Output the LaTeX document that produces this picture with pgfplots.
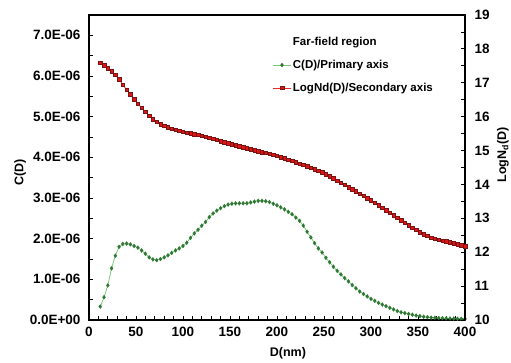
\documentclass[border=0pt]{standalone}
\usepackage{fontspec}
\setmainfont{Liberation Sans}
\usepackage{pgfplots}
\usepackage{pgfplotstable}
\pgfplotsset{compat=1.18}
\definecolor{gmark}{RGB}{46,120,52}
\definecolor{gline}{RGB}{120,200,120}
\definecolor{rmark}{RGB}{225,20,20}
\definecolor{redge}{RGB}{120,20,20}
\definecolor{rline}{RGB}{235,40,40}
\pgfplotstableread{
D C
12 0.33
16 0.56
20 0.85
24 1.27
28 1.58
32 1.80
36 1.87
40 1.88
44 1.86
48 1.82
52 1.78
56 1.71
60 1.63
64 1.54
68 1.49
72 1.47
76 1.50
80 1.54
84 1.59
88 1.65
92 1.71
96 1.76
100 1.82
104 1.90
108 2.02
112 2.13
116 2.22
120 2.32
124 2.41
128 2.53
132 2.62
136 2.69
140 2.75
144 2.80
148 2.84
152 2.86
156 2.87
160 2.87
164 2.87
168 2.87
172 2.89
176 2.91
180 2.93
184 2.93
188 2.92
192 2.90
196 2.86
200 2.82
204 2.77
208 2.72
212 2.66
216 2.60
220 2.52
224 2.44
228 2.32
232 2.17
236 2.03
240 1.89
244 1.76
248 1.66
252 1.53
256 1.42
260 1.31
264 1.21
268 1.12
272 1.03
276 0.95
280 0.86
284 0.78
288 0.70
292 0.64
296 0.58
300 0.52
304 0.47
308 0.42
312 0.38
316 0.34
320 0.30
324 0.26
328 0.22
332 0.19
336 0.17
340 0.15
344 0.13
348 0.11
352 0.095
356 0.08
360 0.07
364 0.06
368 0.055
372 0.05
376 0.045
380 0.04
384 0.037
388 0.034
392 0.031
396 0.03
400 0.028
}\tableC
\pgfplotstableread{
D L
12 17.59
16 17.52
20 17.43
24 17.34
28 17.23
32 17.11
36 16.94
40 16.79
44 16.66
48 16.52
52 16.38
56 16.26
60 16.14
64 16.03
68 15.93
72 15.85
76 15.78
80 15.73
84 15.69
88 15.65
92 15.61
96 15.58
100 15.55
104 15.53
108 15.51
112 15.48
116 15.46
120 15.44
124 15.41
128 15.38
132 15.35
136 15.32
140 15.28
144 15.25
148 15.22
152 15.19
156 15.16
160 15.13
164 15.10
168 15.07
172 15.04
176 15.01
180 14.98
184 14.95
188 14.93
192 14.90
196 14.87
200 14.84
204 14.80
208 14.77
212 14.73
216 14.70
220 14.66
224 14.62
228 14.58
232 14.54
236 14.50
240 14.45
244 14.40
248 14.36
252 14.30
256 14.24
260 14.18
264 14.11
268 14.05
272 13.99
276 13.92
280 13.86
284 13.80
288 13.73
292 13.67
296 13.60
300 13.54
304 13.46
308 13.39
312 13.31
316 13.24
320 13.16
324 13.09
328 13.01
332 12.94
336 12.87
340 12.80
344 12.73
348 12.66
352 12.59
356 12.53
360 12.48
364 12.43
368 12.40
372 12.37
376 12.34
380 12.32
384 12.30
388 12.27
392 12.24
396 12.21
400 12.18
}\tableL
\pgfplotsset{
  common/.style={
    scale only axis, width=376pt, height=305pt,
    xmin=0, xmax=400,
    tick align=inside,
    major tick length=4pt, minor tick length=4pt,
    every tick/.style={black, line width=0.8pt},
    every minor tick/.style={black, line width=0.8pt},
    axis line style={line width=1.5pt},
    /pgf/number format/assume math mode=true,
    /pgf/number format/1000 sep={},
    tick label style={font=\fontsize{13.5}{15}\selectfont\bfseries},
  },
  gstyle/.style={color=gline, line width=0.8pt, mark=diamond*, mark size=2pt,
    mark options={fill=gmark, draw=gmark, line width=0.3pt}},
  rstyle/.style={color=rline, line width=0.8pt, mark=square*, mark size=1.7pt,
    mark options={fill=rmark, draw=redge, line width=0.4pt}},
}
\begin{document}
\begin{tikzpicture}
\begin{axis}[common,
  ymin=0, ymax=7.5,
  ytick={0,1,2,3,4,5,6,7},
  yticklabels={0.0E+00,1.0E-06,2.0E-06,3.0E-06,4.0E-06,5.0E-06,6.0E-06,7.0E-06},
  minor ytick={0.5,1.5,2.5,3.5,4.5,5.5,6.5},
  xtick={0,50,...,400},
  minor x tick num=4,
  xtick pos=bottom, ytick pos=left,
  yticklabel style={xshift=-5pt},
  xticklabel style={yshift=-4pt},
  xlabel={D(nm)}, ylabel={C(D)},
  every axis x label/.style={at={(axis description cs:0.529,-0.108)}, anchor=center,
    font=\fontsize{12.5}{14}\selectfont\bfseries},
  every axis y label/.style={at={(axis description cs:-0.183,0.485)}, rotate=90, anchor=center,
    font=\fontsize{12.5}{14}\selectfont\bfseries},
]
\addplot[gstyle] table[x=D, y=C] {\tableC};
\end{axis}
\begin{axis}[common,
  ymin=10, ymax=19,
  ytick={10,11,...,19},
  minor y tick num=1,
  axis x line=none,
  axis y line*=right,
  yticklabel style={xshift=6pt},
  ylabel={LogN$_{\mathbf{d}}$(D)},
  every axis y label/.style={at={(axis description cs:1.101,0.541)}, rotate=90, anchor=center,
    font=\fontsize{12.5}{14}\selectfont\bfseries},
  legend style={at={(0.489,0.934)}, anchor=north west, draw=none, fill=none,
    font=\fontsize{11.5}{13}\selectfont\bfseries, row sep=9pt, inner sep=0pt,
    legend cell align=left},
]
\addlegendimage{empty legend}
\addlegendentry{Far-field region}
\addlegendimage{gstyle}
\addlegendentry{C(D)/Primary axis}
\addplot[rstyle] table[x=D, y=L] {\tableL};
\addlegendentry{LogNd(D)/Secondary axis}
\end{axis}
\pgfresetboundingbox
\path[use as bounding box] (-89pt,-42pt) rectangle (422pt,320pt);
\end{tikzpicture}
\end{document}
